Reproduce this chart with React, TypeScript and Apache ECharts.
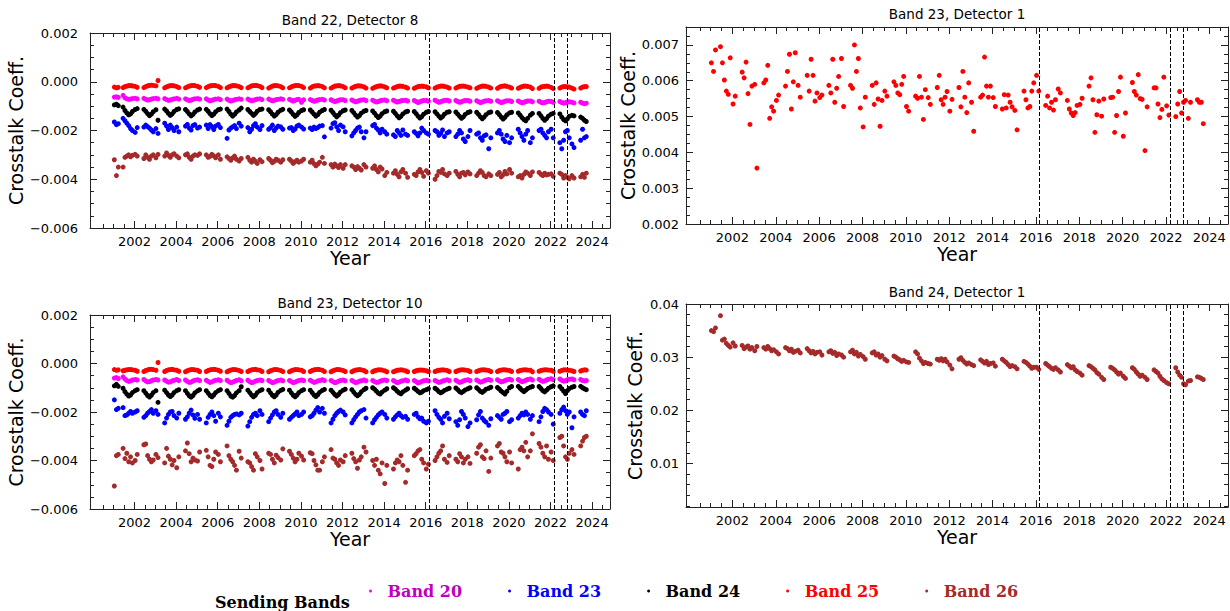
import React, { useEffect, useRef } from 'react';
import * as echarts from 'echarts';

// ---------- shared observation dates (decimal years) ----------
const DATES = [
  2001.03, 2001.13, 2001.22, 2001.45, 2001.54, 2001.63, 2001.72, 2001.81, 2001.90,
  2002.03, 2002.13, 2002.45, 2002.54, 2002.63, 2002.72, 2002.81, 2002.90,
  2003.03, 2003.13, 2003.45, 2003.54, 2003.63, 2003.72, 2003.81, 2003.90,
  2004.03, 2004.13, 2004.45, 2004.54, 2004.63, 2004.72, 2004.81, 2004.90,
  2005.03, 2005.13, 2005.45, 2005.54, 2005.63, 2005.72, 2005.81, 2005.90,
  2006.03, 2006.13, 2006.45, 2006.54, 2006.63, 2006.72, 2006.81, 2006.90,
  2007.03, 2007.13, 2007.45, 2007.54, 2007.63, 2007.72, 2007.81, 2007.90,
  2008.03, 2008.13, 2008.45, 2008.54, 2008.63, 2008.72, 2008.81, 2008.90,
  2009.03, 2009.13, 2009.45, 2009.54, 2009.63, 2009.72, 2009.81, 2009.90,
  2010.03, 2010.13, 2010.45, 2010.54, 2010.63, 2010.72, 2010.81, 2010.90,
  2011.03, 2011.13, 2011.45, 2011.54, 2011.63, 2011.72, 2011.81, 2011.90,
  2012.03, 2012.13, 2012.45, 2012.54, 2012.63, 2012.72, 2012.81, 2012.90,
  2013.03, 2013.13, 2013.45, 2013.54, 2013.63, 2013.72, 2013.81, 2013.90,
  2014.03, 2014.13, 2014.45, 2014.54, 2014.63, 2014.72, 2014.81, 2014.90,
  2015.03, 2015.13, 2015.45, 2015.54, 2015.63, 2015.72, 2015.81, 2015.90,
  2016.03, 2016.13, 2016.45, 2016.54, 2016.63, 2016.72, 2016.81, 2016.90,
  2017.03, 2017.13, 2017.45, 2017.54, 2017.63, 2017.72, 2017.81, 2017.90,
  2018.03, 2018.13, 2018.45, 2018.54, 2018.63, 2018.72, 2018.81, 2018.90,
  2019.03, 2019.13, 2019.45, 2019.54, 2019.63, 2019.72, 2019.81, 2019.90,
  2020.03, 2020.13, 2020.45, 2020.54, 2020.63, 2020.72, 2020.81, 2020.90,
  2021.03, 2021.13, 2021.45, 2021.54, 2021.63, 2021.72, 2021.81, 2021.90,
  2022.03, 2022.13, 2022.45, 2022.54, 2022.63, 2022.72, 2022.81, 2022.90,
  2023.03, 2023.13, 2023.45, 2023.54, 2023.63, 2023.72,
];

// instrument events (dashed lines)
const EVENTS = [2016.15, 2022.2, 2022.8];

// ---------- Band 22, Detector 8 (units of 1e-5) ----------
const B22D8_BAND20 = [
  -63, -62, -64, -56, -66, -70, -72, -71, -69,
  -68, -70, -68, -72, -75, -74, -71, -69,
  -68, -70, -69, -73, -76, -75, -72, -70,
  -68, -71, -70, -74, -77, -75, -72, -70,
  -69, -71, -70, -75, -78, -76, -73, -71,
  -70, -73, -71, -76, -79, -77, -74, -72,
  -70, -72, -71, -75, -78, -76, -73, -71,
  -70, -73, -71, -75, -78, -76, -73, -72,
  -70, -72, -72, -76, -79, -76, -73, -72,
  -84, -74, -73, -77, -80, -78, -75, -73,
  -72, -75, -74, -78, -81, -79, -76, -74,
  -74, -77, -75, -79, -82, -80, -77, -75,
  -74, -77, -76, -80, -83, -81, -78, -76,
  -75, -78, -76, -80, -83, -81, -78, -77,
  -76, -79, -77, -81, -85, -82, -79, -77,
  -77, -80, -76, -80, -84, -82, -79, -77,
  -76, -79, -77, -81, -84, -82, -79, -77,
  -77, -80, -78, -82, -85, -83, -80, -78,
  -77, -80, -78, -82, -85, -83, -80, -78,
  -78, -81, -79, -83, -86, -84, -81, -79,
  -79, -82, -80, -84, -87, -85, -82, -80,
  -81, -84, -81, -85, -88, -86, -83, -82,
  -84, -87, -84, -88, -90, -88,
];
const B22D8_BAND23 = [
  -165, -176, -172, -150, -160, -170, -180, -192, -200,
  -208, -188, -186, -178, -184, -190, -198, -205,
  -192, -212, -170, -182, -196, -178, -188, -200,
  -186, -205, -182, -175, -190, -198, -180, -176,
  -190, -186, -178, -192, -176, -184, -196, -182,
  -175, -188, -232, -198, -190, -185, -180, -192,
  -170, -182, -188, -205, -195, -180, -172, -186,
  -196, -180, -195, -188, -178, -200, -190, -182,
  -185, -195, -190, -188, -200, -194, -182, -178,
  -186, -194, -190, -196, -186, -192, -188, -182,
  -180, -226, -190, -172, -168, -185, -200, -178,
  -185, -205, -222, -210, -200, -190, -186, -205,
  -230, -205, -180, -175, -190, -198, -210, -195,
  -205, -215, -218, -225, -200, -210, -220, -198,
  -215, -220, -205, -212, -222, -210, -190, -200,
  -210, -215, -200, -205, -220, -212, -198, -225,
  -210, -205, -225, -215, -200, -210, -235, -245,
  -225, -200, -215, -210, -230, -240, -222, -218,
  -275, -230, -210, -200, -215, -235, -245, -220,
  -250, -230, -195, -210, -225, -240, -215, -200,
  -250, -230, -200, -195, -210, -220, -230, -205,
  -195, -230, -250, -275, -240, -205, -200, -230,
  -255, -270, -240, -195, -230, -225,
];
const B22D8_BAND24 = [
  -95, -92, -98, -104, -118, -128, -136, -132, -122,
  -114, -110, -113, -121, -131, -139, -133, -123,
  -115, -158, -112, -120, -130, -138, -132, -122,
  -114, -111, -114, -122, -132, -140, -134, -124,
  -116, -112, -113, -121, -131, -139, -133, -123,
  -115, -112, -112, -122, -133, -141, -134, -124,
  -116, -108, -114, -122, -130, -138, -131, -121,
  -114, -112, -115, -123, -133, -141, -135, -125,
  -117, -113, -116, -124, -134, -142, -136, -126,
  -118, -115, -116, -124, -133, -141, -135, -125,
  -118, -114, -117, -126, -136, -144, -137, -127,
  -119, -116, -118, -127, -137, -145, -139, -129,
  -121, -118, -120, -129, -139, -147, -141, -131,
  -123, -120, -121, -130, -140, -148, -142, -132,
  -124, -121, -122, -131, -141, -149, -143, -133,
  -125, -122, -123, -132, -141, -149, -143, -133,
  -125, -123, -124, -133, -142, -150, -144, -134,
  -126, -123, -125, -134, -144, -152, -145, -135,
  -127, -124, -126, -135, -145, -153, -146, -136,
  -128, -125, -128, -137, -147, -155, -160, -150,
  -137, -130, -130, -140, -150, -158, -151, -141,
  -133, -130, -132, -145, -155, -160, -152, -142,
  -138, -140, -145, -150, -158, -163,
];
const B22D8_BAND25 = [
  -22, -25, -23, -24, -20, -18, -16, -16, -17,
  -19, -23, -24, -20, -17, -15, -14, -15,
  -17, 5, -25, -21, -18, -16, -16, -17,
  -20, -24, -25, -21, -18, -16, -15, -16,
  -19, -23, -24, -20, -17, -16, -15, -16,
  -19, -24, -25, -21, -18, -16, -16, -17,
  -20, -24, -25, -21, -17, -16, -15, -16,
  -19, -24, -26, -22, -18, -16, -16, -17,
  -20, -25, -25, -21, -18, -16, -15, -16,
  -19, -24, -26, -21, -18, -17, -16, -17,
  -20, -25, -26, -22, -18, -17, -16, -17,
  -20, -25, -26, -22, -19, -17, -17, -18,
  -21, -26, -27, -23, -20, -18, -17, -18,
  -21, -25, -26, -23, -20, -18, -18, -19,
  -22, -26, -27, -23, -20, -19, -18, -19,
  -21, -25, -26, -22, -20, -18, -18, -19,
  -22, -26, -26, -22, -19, -18, -18, -19,
  -22, -25, -27, -23, -20, -18, -18, -19,
  -22, -26, -27, -22, -19, -18, -17, -19,
  -22, -26, -27, -23, -20, -18, -18, -19,
  -22, -28, -27, -22, -20, -19, -18, -19,
  -23, -28, -26, -22, -20, -20, -21, -22,
  -26, -30, -26, -22, -20, -20,
];
const B22D8_BAND26 = [
  -320, -385, -350, -350, -310, -305, -300, -308, -302,
  -298, -305, -315, -300, -310, -318, -305, -300,
  -312, -298, -305, -292, -302, -310, -300, -295,
  -305, -312, -300, -296, -310, -318, -305, -300,
  -302, -296, -300, -310, -306, -298, -304, -312,
  -300, -318, -308, -315, -322, -312, -305, -318,
  -325, -315, -310, -322, -330, -318, -326, -335,
  -320, -328, -315, -322, -332, -326, -318, -322,
  -330, -320, -318, -325, -335, -328, -322, -330,
  -325, -318, -330, -322, -336, -345, -338, -330,
  -310, -335, -340, -350, -338, -345, -352, -340,
  -355, -340, -345, -350, -360, -348, -355, -362,
  -340, -350, -355, -345, -360, -370, -350, -358,
  -385, -372, -375, -365, -380, -390, -370, -360,
  -375, -392, -380, -385, -370, -360, -372, -388,
  -365, -375, -400, -385, -368, -372, -360, -378,
  -385, -375, -368, -380, -390, -375, -372, -382,
  -370, -378, -385, -375, -365, -372, -385, -390,
  -378, -385, -380, -372, -390, -382, -368, -378,
  -360, -375, -390, -385, -395, -380, -370, -375,
  -385, -370, -372, -380, -385, -375, -382, -380,
  -378, -388, -375, -380, -395, -385, -392, -398,
  -385, -395, -390, -380, -392, -375,
];

// ---------- Band 23, Detector 10 (units of 1e-5) ----------
const B23D10_BAND20 = [
  -60, -58, -62, -55, -64, -70, -74, -72, -68,
  -66, -68, -66, -72, -76, -75, -71, -68,
  -66, -68, -68, -73, -77, -76, -72, -69,
  -66, -70, -68, -74, -78, -77, -72, -69,
  -67, -70, -69, -74, -78, -76, -72, -69,
  -67, -70, -69, -75, -79, -77, -73, -70,
  -67, -71, -69, -75, -79, -77, -73, -70,
  -68, -70, -70, -75, -79, -77, -73, -70,
  -68, -71, -70, -75, -79, -77, -73, -70,
  -68, -70, -69, -74, -78, -76, -72, -70,
  -67, -70, -70, -75, -79, -77, -73, -70,
  -68, -71, -70, -75, -79, -77, -73, -71,
  -68, -71, -70, -75, -78, -77, -73, -70,
  -68, -70, -70, -75, -79, -77, -73, -71,
  -68, -71, -70, -75, -80, -78, -74, -71,
  -69, -72, -70, -74, -78, -76, -72, -70,
  -67, -70, -69, -74, -78, -76, -72, -69,
  -67, -70, -68, -73, -77, -75, -71, -68,
  -66, -69, -67, -72, -76, -74, -70, -67,
  -65, -68, -66, -71, -75, -73, -69, -66,
  -64, -68, -65, -70, -74, -72, -68, -65,
  -63, -66, -64, -69, -73, -71, -67, -65,
  -64, -67, -66, -70, -72, -70,
];
const B23D10_BAND23 = [
  -150, -190, -185, -182, -215, -212, -205, -198, -205,
  -200, -195, -222, -215, -205, -198, -190, -205,
  -195, -210, -245, -225, -210, -200, -198, -215,
  -225, -205, -230, -220, -205, -192, -212, -226,
  -210, -230, -245, -222, -210, -200, -215, -238,
  -205, -220, -255, -238, -222, -215, -210, -208,
  -212, -205, -258, -240, -222, -210, -205, -215,
  -195, -210, -240, -225, -212, -200, -195, -210,
  -222, -205, -230, -222, -215, -208, -200, -215,
  -210, -200, -220, -215, -205, -192, -182, -200,
  -185, -205, -245, -230, -215, -205, -198, -192,
  -200, -212, -245, -232, -220, -210, -200, -195,
  -190, -225, -245, -232, -222, -212, -205, -200,
  -210, -225, -230, -220, -212, -205, -215, -222,
  -218, -230, -210, -205, -220, -228, -225, -238,
  -245, -238, -195, -210, -222, -230, -245, -218,
  -205, -228, -240, -255, -232, -198, -210, -225,
  -260, -245, -232, -212, -198, -225, -235, -242,
  -255, -228, -215, -222, -230, -210, -205, -198,
  -240, -232, -225, -215, -205, -212, -200, -210,
  -230, -215, -240, -220, -198, -185, -190, -200,
  -210, -250, -205, -190, -180, -195, -210, -200,
  -265, -220, -200, -210, -215, -195,
];
const B23D10_BAND24 = [
  -92, -86, -94, -102, -116, -126, -134, -130, -120,
  -112, -108, -112, -122, -132, -138, -131, -120,
  -112, -160, -110, -120, -130, -136, -130, -120,
  -112, -108, -112, -123, -133, -139, -132, -121,
  -113, -108, -112, -122, -132, -137, -130, -120,
  -112, -108, -112, -123, -134, -139, -132, -121,
  -112, -96, -110, -120, -130, -137, -131, -120,
  -112, -108, -110, -121, -131, -137, -130, -119,
  -111, -107, -110, -121, -131, -137, -130, -120,
  -112, -108, -110, -120, -130, -136, -129, -119,
  -111, -107, -110, -119, -128, -134, -128, -118,
  -110, -106, -108, -118, -127, -133, -127, -117,
  -108, -102, -100, -106, -114, -122, -126, -118,
  -110, -104, -100, -106, -114, -121, -125, -117,
  -110, -104, -102, -108, -115, -121, -118, -112,
  -108, -104, -102, -108, -116, -121, -117, -111,
  -106, -102, -101, -108, -116, -120, -115, -109,
  -104, -100, -100, -107, -115, -119, -113, -106,
  -102, -98, -99, -106, -114, -120, -126, -115,
  -100, -95, -94, -102, -110, -116, -110, -103,
  -98, -95, -95, -103, -112, -117, -110, -102,
  -96, -92, -95, -104, -114, -124, -112, -103,
  -98, -95, -94, -100, -104, -108,
];
const B23D10_BAND25 = [
  -25, -28, -26, -30, -28, -26, -25, -25, -26,
  -28, -32, -33, -29, -26, -24, -24, -25,
  -28, 4, -33, -29, -26, -25, -24, -26,
  -28, -32, -34, -30, -27, -25, -25, -26,
  -28, -33, -33, -29, -26, -25, -24, -25,
  -28, -32, -34, -30, -27, -25, -25, -26,
  -29, -33, -33, -29, -26, -25, -24, -26,
  -28, -33, -34, -30, -27, -25, -25, -26,
  -29, -33, -34, -30, -27, -25, -25, -26,
  -28, -33, -33, -29, -26, -25, -24, -25,
  -28, -33, -34, -30, -27, -25, -25, -26,
  -29, -33, -34, -30, -27, -26, -25, -26,
  -29, -34, -34, -30, -28, -26, -26, -27,
  -30, -34, -34, -31, -28, -27, -26, -27,
  -30, -34, -33, -30, -28, -27, -27, -28,
  -30, -33, -33, -30, -28, -27, -26, -27,
  -29, -33, -33, -30, -27, -26, -26, -27,
  -29, -33, -33, -30, -27, -26, -26, -27,
  -29, -33, -33, -29, -27, -26, -26, -27,
  -29, -33, -32, -29, -27, -26, -26, -27,
  -28, -34, -32, -29, -27, -26, -26, -27,
  -28, -32, -32, -29, -26, -26, -27, -28,
  -30, -33, -31, -28, -26, -27,
];
const B23D10_BAND26 = [
  -505, -380, -375, -350, -392, -370, -405, -385, -410,
  -400, -375, -335, -332, -380, -395, -405, -398,
  -375, -388, -410, -350, -382, -395, -418, -400,
  -430, -385, -360, -328, -372, -405, -390, -398,
  -402, -365, -358, -385, -420, -425, -395, -365,
  -375, -405, -340, -380, -395, -405, -420, -440,
  -362, -390, -405, -410, -425, -440, -372, -385,
  -400, -435, -370, -375, -395, -410, -378, -388,
  -398, -352, -362, -375, -390, -405, -395, -370,
  -382, -398, -368, -372, -400, -418, -440, -440,
  -405, -385, -355, -390, -395, -410, -420, -398,
  -405, -380, -370, -392, -405, -432, -398, -385,
  -345, -365, -400, -420, -395, -440, -455, -410,
  -495, -420, -435, -410, -398, -405, -380, -420,
  -490, -440, -380, -372, -360, -355, -395, -410,
  -435, -415, -400, -385, -370, -360, -340, -395,
  -408, -380, -395, -405, -372, -385, -410, -395,
  -385, -412, -370, -345, -335, -385, -392, -360,
  -445, -390, -340, -330, -365, -370, -385, -405,
  -365, -410, -435, -355, -345, -360, -325, -385,
  -360, -290, -330, -345, -370, -385, -340, -395,
  -365, -400, -305, -300, -340, -385, -395, -370,
  -355, -375, -340, -320, -305, -300,
];

// ---------- Band 23, Detector 1 (units of 1e-5) ----------
const B23D1_VALUES = [
  650, 626, 686, 695, 650, 602, 571, 562, 664,
  535, 557, 624, 608, 652, 564, 478, 585,
  590, 356, 594, 602, 643, 495, 527, 515,
  545, 560, 585, 626, 674, 521, 597, 678,
  587, 554, 615, 571, 660, 615, 543, 566,
  553, 560, 587, 566, 660, 540, 579, 612,
  662, 528, 587, 579, 700, 626, 662, 524,
  471, 554, 587, 534, 594, 549, 473, 545,
  571, 557, 597, 587, 566, 561, 590, 612,
  528, 515, 557, 551, 612, 554, 492, 575,
  553, 534, 581, 615, 547, 534, 554, 570,
  515, 548, 581, 527, 626, 554, 511, 594,
  540, 459, 554, 560, 666, 585, 554, 585,
  553, 528, 521, 561, 524, 560, 540, 527,
  517, 463, 571, 547, 524, 528, 571, 594,
  615, 571, 531, 557, 524, 540, 518, 547,
  577, 566, 545, 521, 510, 503, 511, 531,
  534, 551, 585, 608, 547, 456, 505, 543,
  501, 549, 553, 554, 456, 503, 570, 610,
  445, 510, 595, 570, 560, 617, 550, 548,
  405, 527, 580, 580, 535, 497, 520, 610,
  530, 504, 500, 535, 570, 510, 540, 545,
  495, 540, 547, 540, 540, 480,
];

// ---------- Band 24, Detector 1 (units of 1e-4) ----------
const B24D1_VALUES = [
  350, 348, 355, 378, 332, 334, 326, 322, 319,
  327, 321, 322, 316, 319, 321, 315, 318,
  312, 320, 318, 315, 320, 316, 312, 314,
  310, 306, 318, 316, 312, 315, 309, 311,
  313, 308, 316, 312, 308, 311, 306, 309,
  310, 304, 310, 312, 307, 309, 303, 306,
  304, 300, 310, 313, 306, 309, 302, 305,
  301, 296, 308, 310, 304, 306, 300, 303,
  296, 293, 302, 300, 297, 295, 292, 294,
  291, 290, 310, 306, 298, 293, 288, 290,
  288, 287, 296, 294, 297, 293, 296, 291,
  285, 278, 296, 299, 294, 290, 287, 289,
  286, 284, 295, 292, 289, 292, 286, 288,
  289, 283, 296, 293, 290, 286, 282, 284,
  282, 278, 292, 290, 287, 283, 279, 281,
  281, 277, 288, 285, 282, 279, 277, 280,
  276, 272, 286, 283, 280, 282, 276, 273,
  270, 266, 284, 282, 279, 276, 271, 268,
  262, 258, 281, 279, 276, 272, 268, 270,
  264, 260, 280, 277, 272, 268, 264, 266,
  262, 258, 276, 273, 270, 264, 259, 256,
  252, 250, 280, 272, 266, 262, 250, 248,
  255, 256, 263, 262, 260, 258,
];

// ---------- axis ticks ----------
const X_MIN = 1999.86;
const X_MAX = 2024.86;
const YEAR_LABELS = [2002, 2004, 2006, 2008, 2010, 2012, 2014, 2016, 2018, 2020, 2022, 2024];

const COLORS = {
  'Band 20': '#ff00ff',
  'Band 23': '#0000ff',
  'Band 24': '#000000',
  'Band 25': '#ff0000',
  'Band 26': '#a52a2a',
};
const LEGEND_TEXT = {
  'Band 20': '#c000c0',
  'Band 23': '#0000ff',
  'Band 24': '#000000',
  'Band 25': '#ff0000',
  'Band 26': '#a52a2a',
};

function stepList(from: number, to: number, step: number, skip: number) {
  const out: number[] = [];
  const n = Math.round((to - from) / step);
  for (let i = 0; i <= n; i++) {
    const v = +(from + i * step).toFixed(6);
    if (skip > 0 && Math.abs(v / skip - Math.round(v / skip)) < 1e-6) continue;
    out.push(v);
  }
  return out;
}

const X_MINOR = stepList(2000, 2024.5, 0.5, 2);

const FRAME = '#222';
const FONT = 'DejaVu Sans';

function pts(vals: number[], unit: number) {
  const n = Math.min(vals.length, DATES.length);
  const out: number[][] = [];
  for (let i = 0; i < n; i++) out.push([DATES[i], +(vals[i] * unit).toPrecision(6)]);
  return out;
}

function fmtSigned(dec: number) {
  return (v: number) => {
    const s = Math.abs(v).toFixed(dec);
    return v < -1e-12 ? '\u2212' + s : s;
  };
}

function xAxesFor(grid: number, nameGap: number) {
  const base = {
    type: 'value', gridIndex: grid, min: X_MIN, max: X_MAX,
    splitLine: { show: false },
  };
  return [
    {
      ...base, position: 'bottom',
      axisLine: { show: true, onZero: false, lineStyle: { color: FRAME, width: 1 } },
      axisTick: { show: true, inside: true, length: 7, customValues: YEAR_LABELS, lineStyle: { color: FRAME } },
      axisLabel: { show: true, customValues: YEAR_LABELS, fontSize: 13, color: '#000', margin: 7, fontFamily: FONT, formatter: (v: number) => String(Math.round(v)) },
      name: 'Year', nameLocation: 'middle', nameGap,
      nameTextStyle: { fontSize: 19, color: '#000', fontFamily: FONT },
    },
    {
      ...base, position: 'bottom',
      axisLine: { show: false, onZero: false },
      axisTick: { show: true, inside: true, length: 4, customValues: X_MINOR, lineStyle: { color: FRAME } },
      axisLabel: { show: false },
    },
    {
      ...base, position: 'top',
      axisLine: { show: true, onZero: false, lineStyle: { color: FRAME, width: 1 } },
      axisTick: { show: true, inside: true, length: 7, customValues: YEAR_LABELS, lineStyle: { color: FRAME } },
      axisLabel: { show: false },
    },
    {
      ...base, position: 'top',
      axisLine: { show: false, onZero: false },
      axisTick: { show: true, inside: true, length: 4, customValues: X_MINOR, lineStyle: { color: FRAME } },
      axisLabel: { show: false },
    },
  ];
}

function yAxesFor(grid: number, min: number, max: number, majors: number[], minors: number[], dec: number, nameGap: number, labelMargin: number) {
  const base = { type: 'value', gridIndex: grid, min, max, splitLine: { show: false } };
  return [
    {
      ...base, position: 'left',
      axisLine: { show: true, onZero: false, lineStyle: { color: FRAME, width: 1 } },
      axisTick: { show: true, inside: true, length: 7, customValues: majors, lineStyle: { color: FRAME } },
      axisLabel: { show: true, customValues: majors, fontSize: 13, color: '#000', margin: labelMargin, fontFamily: FONT, formatter: fmtSigned(dec) },
      name: 'Crosstalk Coeff.', nameLocation: 'middle', nameGap,
      nameTextStyle: { fontSize: 19, color: '#000', fontFamily: FONT },
    },
    {
      ...base, position: 'left',
      axisLine: { show: false, onZero: false },
      axisTick: { show: true, inside: true, length: 4, customValues: minors, lineStyle: { color: FRAME } },
      axisLabel: { show: false },
    },
    {
      ...base, position: 'right',
      axisLine: { show: true, onZero: false, lineStyle: { color: FRAME, width: 1 } },
      axisTick: { show: true, inside: true, length: 7, customValues: majors, lineStyle: { color: FRAME } },
      axisLabel: { show: false },
    },
    {
      ...base, position: 'right',
      axisLine: { show: false, onZero: false },
      axisTick: { show: true, inside: true, length: 4, customValues: minors, lineStyle: { color: FRAME } },
      axisLabel: { show: false },
    },
  ];
}

function scatter(name: keyof typeof COLORS, grid: number, data: number[][], withEvents: boolean) {
  const s: any = {
    name, type: 'scatter', xAxisIndex: grid * 4, yAxisIndex: grid * 4,
    data, symbol: 'circle', symbolSize: 5,
    itemStyle: { color: COLORS[name], opacity: 1 },
    silent: true,
  };
  if (withEvents) {
    s.markLine = {
      silent: true, symbol: ['none', 'none'], label: { show: false },
      lineStyle: { color: '#000', width: 1, type: [4, 2] },
      data: EVENTS.map((e) => ({ xAxis: e })),
      animation: false,
    };
  }
  return s;
}

export default function App() {
  const ref = useRef<HTMLDivElement>(null);
  useEffect(() => {
    if (!ref.current) return;
    const chart = echarts.init(ref.current, undefined, { renderer: 'svg' });

    const Y13_MAJ = [-0.006, -0.004, -0.002, 0, 0.002];
    const Y13_MIN = stepList(-0.006, 0.002, 0.0005, 0.002);
    const Y2_MAJ = [0.002, 0.003, 0.004, 0.005, 0.006, 0.007];
    const Y2_MIN = stepList(0.002, 0.0075, 0.00025, 0.001).filter((v) => v > 0.002 && v < 0.0075);
    const Y4_MAJ = [0.01, 0.02, 0.03, 0.04];
    const Y4_MIN = stepList(0.002, 0.04, 0.002, 0.01);

    const grids = [
      { left: 90, top: 33, width: 520, height: 195 },
      { left: 686, top: 27, width: 542, height: 197 },
      { left: 90, top: 315, width: 520, height: 194 },
      { left: 686, top: 304, width: 542, height: 203 },
    ];

    const xAxis = [...xAxesFor(0, 19), ...xAxesFor(1, 19), ...xAxesFor(2, 19), ...xAxesFor(3, 19)];
    const yAxis = [
      ...yAxesFor(0, -0.006, 0.002, Y13_MAJ, Y13_MIN, 3, 62, 12),
      ...yAxesFor(1, 0.002, 0.0075, Y2_MAJ, Y2_MIN, 3, 42, 7),
      ...yAxesFor(2, -0.006, 0.002, Y13_MAJ, Y13_MIN, 3, 62, 12),
      ...yAxesFor(3, 0.0018, 0.04, Y4_MAJ, Y4_MIN, 2, 42, 7),
    ];

    const U5 = 1e-5;
    const series = [
      scatter('Band 20', 0, pts(B22D8_BAND20, U5), true),
      scatter('Band 23', 0, pts(B22D8_BAND23, U5), false),
      scatter('Band 24', 0, pts(B22D8_BAND24, U5), false),
      scatter('Band 25', 0, pts(B22D8_BAND25, U5), false),
      scatter('Band 26', 0, pts(B22D8_BAND26, U5), false),
      scatter('Band 25', 1, pts(B23D1_VALUES, U5), true),
      scatter('Band 20', 2, pts(B23D10_BAND20, U5), true),
      scatter('Band 23', 2, pts(B23D10_BAND23, U5), false),
      scatter('Band 24', 2, pts(B23D10_BAND24, U5), false),
      scatter('Band 25', 2, pts(B23D10_BAND25, U5), false),
      scatter('Band 26', 2, pts(B23D10_BAND26, U5), false),
      scatter('Band 26', 3, pts(B24D1_VALUES, 1e-4), true),
    ];

    const titleStyle = (text: string, x: number, y: number) => ({
      type: 'text', x, y, silent: true,
      style: { text, fill: '#000', font: `13.5px ${FONT}`, textAlign: 'center', textVerticalAlign: 'middle' },
    });

    const legendNames = ['Band 20', 'Band 23', 'Band 24', 'Band 25', 'Band 26'] as const;

    chart.setOption({
      animation: false,
      backgroundColor: '#ffffff',
      textStyle: { fontFamily: FONT },
      grid: grids,
      xAxis,
      yAxis,
      series,
      legend: {
        show: true, left: 364, top: 578, orient: 'horizontal',
        icon: 'circle', itemWidth: 24, itemHeight: 3, itemGap: 46, selectedMode: false,
        textStyle: { fontFamily: 'DejaVu Serif', fontWeight: 'bold', fontSize: 16 },
        data: legendNames.map((n) => ({ name: n, textStyle: { color: LEGEND_TEXT[n] } })),
      },
      graphic: [
        titleStyle('Band 22, Detector 8', 350, 20),
        titleStyle('Band 23, Detector 1', 957, 14),
        titleStyle('Band 23, Detector 10', 350, 303),
        titleStyle('Band 24, Detector 1', 957, 292),
        {
          type: 'text', left: 215, top: 594, silent: true,
          style: { text: 'Sending Bands', fill: '#000', font: `bold 16px "DejaVu Serif"` },
        },
      ],
    });
    return () => chart.dispose();
  }, []);

  return (
    <div
      ref={ref}
      style={{ position: 'fixed', left: 0, top: 0, width: 1230, height: 611, background: '#fff' }}
    />
  );
}
